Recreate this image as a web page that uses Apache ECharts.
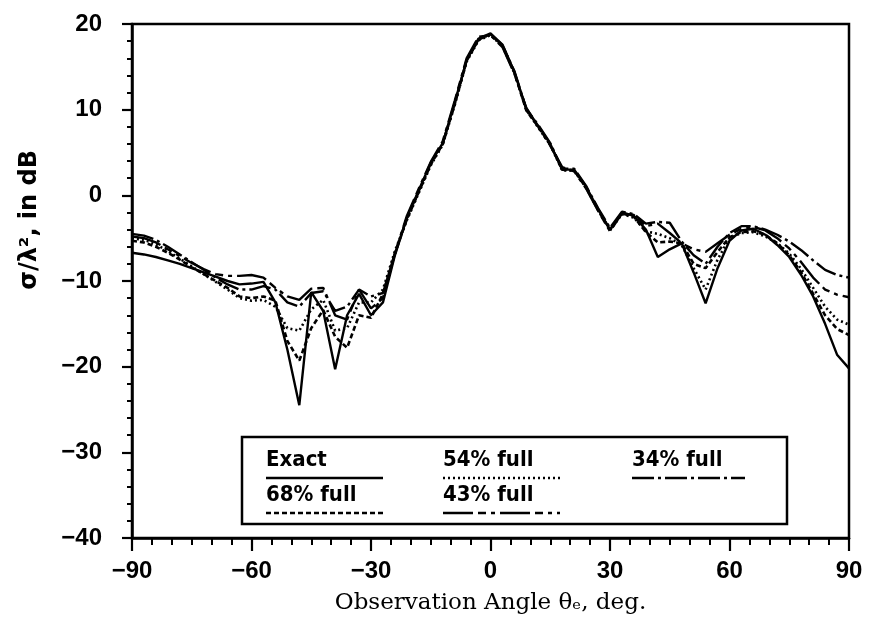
<!DOCTYPE html>
<html>
<head>
<meta charset="utf-8">
<script src="https://cdn.jsdelivr.net/npm/echarts@6/dist/echarts.min.js"></script>
<style>
  html, body { margin: 0; padding: 0; background: #fff; }
  #rcs_chart { width: 870px; height: 628px; }
</style>
</head>
<body>
<div id="rcs_chart"></div>
<script>
let chartDom = document.getElementById('rcs_chart');
let chartIns = echarts.init(chartDom);

/** observation angles, deg */
let angles = [-90, -87, -84, -81, -78, -75, -72, -69, -66, -63,
  -60, -57, -54, -51, -48, -45, -42, -39, -36, -33,
  -30, -27, -24, -21, -18, -15, -12, -9, -6, -3,
  0, 3, 6, 9, 12, 15, 18, 21, 24, 27,
  30, 33, 36, 39, 42, 45, 48, 51, 54, 57,
  60, 63, 66, 69, 72, 75, 78, 81, 84, 87, 90];

/** sigma/lambda^2 in dB, one list per curve */
let exactVals = [-6.7, -6.9, -7.2, -7.6, -8.0, -8.5, -9.0, -9.5, -10.0, -10.4,
  -10.3, -10.1, -12.5, -18.0, -24.5, -11.3, -13.5, -20.3, -14.0, -11.5,
  -14.0, -12.5, -7.0, -2.6, 0.6, 3.8, 6.1, 10.8, 15.8, 18.3,
  18.9, 17.6, 14.4, 10.0, 8.1, 6.0, 3.0, 3.0, 1.0, -1.6,
  -4.0, -2.0, -2.4, -4.0, -7.2, -6.3, -5.6, -9.0, -12.6, -8.5,
  -5.3, -4.1, -3.9, -4.6, -5.8, -7.2, -9.3, -11.8, -15.0, -18.6, -20.2];
let full68Vals = [-5.3, -5.5, -6.0, -6.7, -7.5, -8.4, -9.2, -10.0, -10.8, -11.8,
  -12.0, -11.8, -12.3, -17.0, -19.3, -15.5, -13.4, -16.5, -17.8, -14.0,
  -14.3, -11.5, -6.8, -2.8, 0.4, 3.6, 6.0, 10.6, 15.7, 18.2,
  18.8, 17.5, 14.3, 9.9, 8.0, 5.9, 3.0, 2.9, 0.9, -1.7,
  -4.0, -2.1, -2.5, -4.3, -5.5, -5.4, -5.6, -8.0, -8.5, -6.6,
  -4.9, -4.3, -4.2, -4.6, -5.6, -7.0, -9.0, -11.5, -14.0, -15.6, -16.3];
let full54Vals = [-5.0, -5.2, -5.7, -6.5, -7.4, -8.3, -9.2, -10.1, -11.0, -12.0,
  -12.3, -12.2, -13.0, -15.5, -15.8, -13.3, -12.2, -15.8, -15.5, -12.5,
  -12.5, -11.0, -6.5, -2.9, 0.3, 3.5, 5.9, 10.5, 15.6, 18.1,
  18.7, 17.4, 14.3, 10.0, 7.9, 5.9, 2.9, 2.9, 0.9, -1.7,
  -4.1, -2.2, -2.6, -4.2, -4.5, -5.0, -5.8, -8.5, -11.0, -7.5,
  -5.0, -4.4, -4.3, -4.8, -5.6, -6.8, -8.6, -10.8, -13.0, -14.5, -15.1];
let full43Vals = [-4.8, -5.0, -5.5, -6.3, -7.1, -7.9, -8.6, -9.2, -9.4, -9.4,
  -9.3, -9.6, -10.8, -11.8, -12.2, -10.9, -10.8, -14.0, -14.5, -11.0,
  -13.2, -12.0, -6.8, -2.4, 0.8, 3.9, 6.3, 11.0, 16.0, 18.5,
  18.7, 17.3, 14.2, 10.2, 8.0, 5.8, 3.3, 2.8, 0.8, -1.8,
  -4.2, -2.1, -2.3, -3.6, -3.3, -4.4, -5.6, -6.3, -6.6, -5.6,
  -4.6, -3.9, -3.7, -4.1, -5.0, -6.2, -7.8, -9.6, -11.0, -11.6, -11.9];
let full34Vals = [-4.5, -4.7, -5.2, -6.0, -6.9, -7.8, -8.7, -9.6, -10.4, -11.0,
  -11.0, -10.6, -11.0, -12.5, -13.0, -11.4, -11.2, -13.5, -13.0, -11.0,
  -11.8, -11.4, -6.8, -2.7, 0.5, 3.7, 6.0, 10.7, 15.7, 18.2,
  18.8, 17.5, 14.5, 10.1, 8.2, 6.1, 3.1, 3.1, 1.1, -1.5,
  -3.8, -1.9, -2.2, -3.3, -3.1, -3.2, -5.4, -7.0, -8.0, -6.0,
  -4.4, -3.6, -3.6, -4.0, -4.6, -5.4, -6.4, -7.6, -8.7, -9.3, -9.6];

/** curve names + dash patterns */
let curveLis = [
  { name: 'Exact', vals: exactVals, dash: 'solid', width: 2.4 },
  { name: '68% full', vals: full68Vals, dash: [5, 3], width: 2.6 },
  { name: '54% full', vals: full54Vals, dash: [2, 3], width: 2.6 },
  { name: '43% full', vals: full43Vals, dash: [30, 5, 8, 5, 4, 5], width: 2.4 },
  { name: '34% full', vals: full34Vals, dash: [22, 4, 3, 4], width: 2.4 }
];

let minusFmt = function (v) { return String(v).replace('-', '\u2212'); };

let legendFont = 'bold 22px "DejaVu Sans Condensed", "DejaVu Sans", sans-serif';
let legendGraphic = [
  { type: 'rect', shape: { x: 242, y: 437, width: 545, height: 87 },
    style: { fill: '#fff', stroke: '#000', lineWidth: 2.5 }, z: 100 }
];
/** legend entries: text over a line sample */
let legendPos = [[266, 449], [266, 484], [443, 449], [443, 484], [632, 449]];
curveLis.forEach(function (c, k) {
  let p = legendPos[k];
  legendGraphic.push({ type: 'text', left: p[0], top: p[1], z: 101,
    style: { text: c.name, font: legendFont, fill: '#000' } });
  legendGraphic.push({ type: 'line', z: 101,
    shape: { x1: p[0], y1: p[1] + 29, x2: p[0] + (k === 4 ? 113 : 117), y2: p[1] + 29 },
    style: { stroke: '#000', lineWidth: 2.4, lineDash: c.dash === 'solid' ? null : c.dash } });
});
/** y axis title, rotated */
legendGraphic.push({
  type: 'text', left: 18, top: 150, rotation: Math.PI / 2, z: 101,
  style: { text: '\u03c3/\u03bb\u00b2, in dB', font: 'bold 24px "DejaVu Sans", sans-serif', fill: '#000' }
});

let option = {
  animation: false,
  backgroundColor: '#fff',
  grid: { left: 132, right: 21, top: 24, bottom: 90, show: true, borderColor: '#000', borderWidth: 2.5 },
  xAxis: {
    type: 'value', min: -90, max: 90, interval: 30,
    name: 'Observation Angle \u03b8\u2091, deg.',
    nameLocation: 'middle', nameGap: 54,
    nameTextStyle: { fontFamily: 'DejaVu Serif', fontSize: 23, color: '#000' },
    axisLine: { onZero: false, lineStyle: { color: '#000', width: 2.5 } },
    axisTick: { length: 13, lineStyle: { color: '#000', width: 2.2 } },
    minorTick: { show: true, splitNumber: 6, length: 7, lineStyle: { color: '#000', width: 2 } },
    splitLine: { show: false },
    axisLabel: { formatter: minusFmt, margin: 21, color: '#000', fontFamily: 'Liberation Sans', fontWeight: 'bold', fontSize: 24 }
  },
  yAxis: {
    type: 'value', min: -40, max: 20, interval: 10,
    axisLine: { onZero: false, lineStyle: { color: '#000', width: 2.5 } },
    axisTick: { length: 10, lineStyle: { color: '#000', width: 2.2 } },
    minorTick: { show: true, splitNumber: 5, length: 5, lineStyle: { color: '#000', width: 2 } },
    splitLine: { show: false },
    axisLabel: { formatter: minusFmt, margin: 30, color: '#000', fontFamily: 'Liberation Sans', fontWeight: 'bold', fontSize: 24 }
  },
  graphic: legendGraphic,
  series: curveLis.map(function (c) {
    return {
      name: c.name, type: 'line', showSymbol: false, symbol: 'none',
      data: angles.map(function (a, i) { return [a, c.vals[i]]; }),
      lineStyle: { color: '#000', width: c.width, type: c.dash }
    };
  })
};
chartIns.setOption(option);
</script>
</body>
</html>
